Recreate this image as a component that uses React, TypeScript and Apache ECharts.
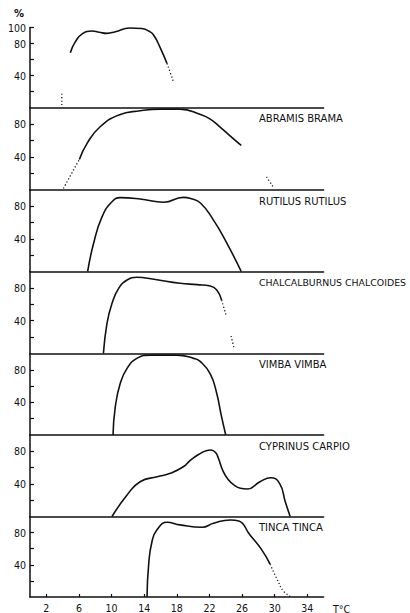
import React, { useEffect, useRef } from "react";
import * as echarts from "echarts";

// Temperature axis ticks (°C) and percentage ticks
const xTicks = [2, 6, 10, 14, 18, 22, 26, 30, 34];
const yTicksTop = [20, 40, 60, 80, 100];
const yLabelsTop = [40, 80, 100];
const yTicks = [20, 40, 60, 80];
const yLabels = [40, 80];

// Species names, one per panel (the first panel carries none)
const speciesNames = [
  "",
  "ABRAMIS BRAMA",
  "RUTILUS RUTILUS",
  "CHALCALBURNUS CHALCOIDES",
  "VIMBA VIMBA",
  "CYPRINUS CARPIO",
  "TINCA TINCA",
];

// Panel 1
const p1Solid = [
  [4.94, 68.5], [5.55, 82], [6.4, 92], [7.6, 95.6], [8.5, 94], [9.44, 92.7],
  [10.46, 94.8], [12.2, 99.3], [13.7, 98.8], [14.55, 95.6], [15.15, 90.6],
  [16.0, 74], [16.8, 55],
];
const p1Dotted = [
  [[3.9, 3], [3.9, 20]],
  [[16.8, 55], [17.6, 32]],
];

// Abramis brama
const p2Solid = [
  [6.05, 37], [7.0, 56.6], [8.6, 76.7], [10.9, 91], [13.5, 96], [16, 98],
  [18.4, 98], [20.9, 91.5], [22.1, 86], [23.35, 76], [24.6, 65], [25.9, 54],
];
const p2Dotted = [
  [[4.1, 2], [6.05, 37]],
  [[29.0, 16], [29.8, 4]],
];

// Rutilus rutilus
const p3Solid = [
  [7.07, 0], [7.8, 34.6], [8.83, 67], [10.05, 85.6], [11.07, 90.6], [13.5, 89],
  [16.4, 85], [18.8, 91], [19.7, 89.5], [20.9, 84], [22.5, 63], [24.15, 34.6], [25.9, 0],
];
const p3Dotted: number[][][] = [];

// Chalcalburnus chalcoides
const p4Solid = [
  [9.0, 0], [9.44, 36.8], [10.05, 61], [10.87, 79.5], [11.9, 89.6], [13.1, 93],
  [15.2, 90.5], [18.4, 85.6], [20.5, 84], [22.1, 82.3], [22.9, 77.4], [23.5, 65],
];
const p4Dotted = [
  [[23.5, 65], [24.1, 45]],
  [[24.65, 21.3], [25.05, 5]],
];

// Vimba vimba
const p5Solid = [
  [10.18, 0], [10.46, 34.7], [11.07, 63.4], [11.9, 81.8], [13.1, 94], [14.75, 98],
  [18.0, 98], [20.06, 94], [20.9, 90], [22.1, 75], [22.9, 51], [23.4, 26.6], [24.0, 0],
];
const p5Dotted: number[][][] = [];

// Cyprinus carpio
const p6Solid = [
  [10.06, 0], [11.9, 26.4], [13.5, 42.7], [15.6, 48.8], [17.2, 53], [18.8, 61],
  [19.65, 69], [20.9, 77.5], [21.6, 80.8], [22.2, 81.6], [22.75, 78.5], [23.1, 71.4],
  [23.7, 55], [24.35, 44.8], [25.0, 38.7], [25.8, 34.6], [26.6, 33.7],
  [28.25, 42.9], [29.5, 47.6], [30.6, 40.7], [31.3, 18], [31.9, 0],
];
const p6Dotted: number[][][] = [];

// Tinca tinca
const p7Solid = [
  [14.35, 0], [14.55, 40.5], [14.96, 69], [15.57, 83.4], [16.8, 92.9], [18.4, 89.6],
  [21.1, 86.7], [22.5, 91.6], [24.55, 95.7], [25.6, 94.5], [26.95, 77.3],
  [28.4, 58.9], [29.45, 40.5],
];
const p7Dotted = [
  [[29.45, 40.5], [30.3, 22], [31.1, 7], [31.9, 1]],
];

const panels = [
  { solid: p1Solid, dotted: p1Dotted },
  { solid: p2Solid, dotted: p2Dotted },
  { solid: p3Solid, dotted: p3Dotted },
  { solid: p4Solid, dotted: p4Dotted },
  { solid: p5Solid, dotted: p5Dotted },
  { solid: p6Solid, dotted: p6Dotted },
  { solid: p7Solid, dotted: p7Dotted },
];

const INK = "#111";
const tickFont = "'Liberation Sans Narrow', 'DejaVu Sans Condensed', sans-serif";
const nameFont = "'DejaVu Sans', sans-serif";

export default function App() {
  const ref = useRef<HTMLDivElement>(null);

  useEffect(() => {
    if (!ref.current) return;
    const chart = echarts.init(ref.current, null, { renderer: "svg" });

    const left = 30;
    const width = 293.6;
    const baselines = [107.5, 190, 271.5, 353.5, 435, 516.5, 598];
    const tops = [27.5, ...baselines.slice(0, 6)];
    const last = panels.length - 1;

    const grid = panels.map((_, i) => ({
      left,
      width,
      top: tops[i],
      height: baselines[i] - tops[i],
    }));

    const xAxis = panels.map((_, i) => ({
      type: "value",
      gridIndex: i,
      min: 0,
      max: 36,
      axisLine: { show: true, onZero: false, lineStyle: { color: INK, width: 1.5 } },
      axisTick: {
        show: i === last,
        inside: true,
        length: 3,
        customValues: xTicks,
        lineStyle: { color: INK, width: 1.2 },
      },
      axisLabel: {
        show: i === last,
        customValues: xTicks,
        margin: 5,
        color: INK,
        fontFamily: tickFont,
        fontSize: 10.5,
      },
      splitLine: { show: false },
    }));

    const yAxis = panels.map((_, i) => ({
      type: "value",
      gridIndex: i,
      min: 0,
      max: 100,
      axisLine: { show: true, onZero: false, lineStyle: { color: INK, width: 1.5 } },
      axisTick: {
        show: true,
        inside: true,
        length: 4,
        customValues: i === 0 ? yTicksTop : yTicks,
        lineStyle: { color: INK, width: 1.2 },
      },
      axisLabel: {
        customValues: i === 0 ? yLabelsTop : yLabels,
        margin: 4,
        color: INK,
        fontFamily: tickFont,
        fontSize: 10.5,
      },
      splitLine: { show: false },
    }));

    const series: any[] = [];
    panels.forEach((p, i) => {
      series.push({
        type: "line",
        xAxisIndex: i,
        yAxisIndex: i,
        data: p.solid,
        smooth: 0.5,
        showSymbol: false,
        lineStyle: { color: INK, width: 1.6 },
        silent: true,
      });
      p.dotted.forEach((seg) => {
        series.push({
          type: "line",
          xAxisIndex: i,
          yAxisIndex: i,
          data: seg,
          smooth: 0.5,
          showSymbol: false,
          lineStyle: { color: INK, width: 1.3, type: [1.2, 2.2] },
          silent: true,
        });
      });
    });

    const graphic: any[] = [];
    speciesNames.forEach((name, i) => {
      if (!name) return;
      const size = name.length > 20 ? 9.4 : 10;
      graphic.push({
        type: "text",
        left: 259,
        top: tops[i] + 6,
        style: { text: name, fill: INK, font: `${size}px ${nameFont}` },
      });
    });
    graphic.push({
      type: "text",
      left: 14,
      top: 8,
      style: { text: "%", fill: INK, font: `bold 10px ${nameFont}` },
    });
    graphic.push({
      type: "text",
      left: 333,
      top: 603,
      style: { text: "T°C", fill: INK, font: `10.5px ${tickFont}` },
    });

    chart.setOption({
      animation: false,
      backgroundColor: "#fff",
      grid,
      xAxis,
      yAxis,
      series,
      graphic,
    });

    return () => chart.dispose();
  }, []);

  return (
    <div
      ref={ref}
      style={{ position: "absolute", left: 0, top: 0, width: 410, height: 613 }}
    />
  );
}
